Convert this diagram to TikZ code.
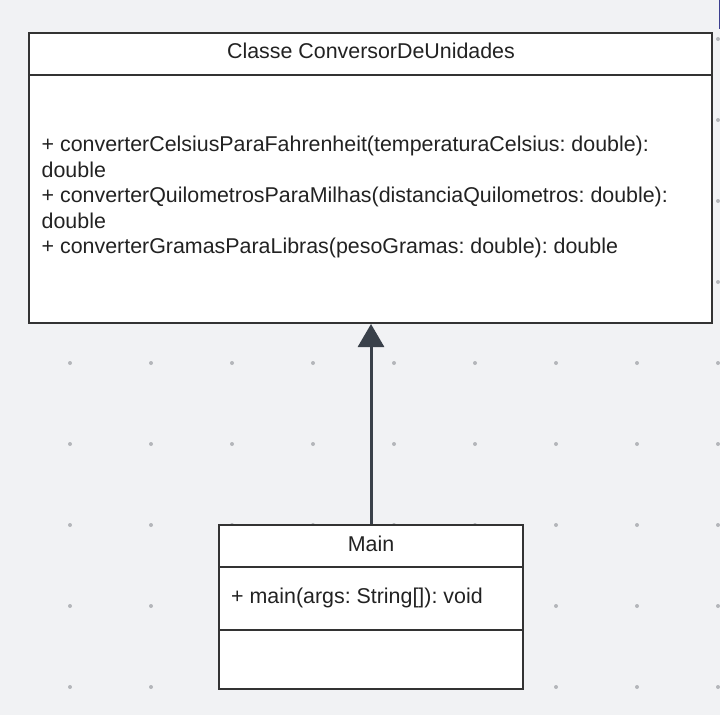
\documentclass[tikz,border=0pt]{standalone}
\usepackage{fontspec}
\setmainfont{Liberation Sans}
\usetikzlibrary{arrows.meta}
\definecolor{bg}{HTML}{F1F2F4}
\definecolor{dotc}{HTML}{B4B6BA}
\definecolor{edge}{HTML}{333333}
\definecolor{arr}{HTML}{3A414A}
\definecolor{txt}{HTML}{222222}
\definecolor{strip}{HTML}{3C3F8F}
\begin{document}
\frenchspacing
\begin{tikzpicture}[x=1pt,y=-1pt,
  umlbox/.style={draw=edge, line width=2pt, fill=white, inner sep=0pt, rectangle},
  lbl/.style={font=\fontsize{21.4}{25}\selectfont, text=txt, inner sep=0pt},
  divider/.style={draw=edge, line width=2pt},
  inherit/.style={draw=arr, line width=3pt, -{Triangle[length=23pt,width=26pt]}}]
\fill[bg] (0,0) rectangle (720,715);
\useasboundingbox (0,0) rectangle (720,715);
\foreach \i in {0,...,8} \foreach \j in {0,...,8} \fill[dotc] (70+81*\i, 39+81*\j) circle (2);
\fill[strip] (718.5,0) rectangle (720,29);
% class ConversorDeUnidades
\node[umlbox, minimum width=683pt, minimum height=290pt] (conv) at (370.5,178) {};
\coordinate (convsep) at (0,74.5);
\draw[divider] (conv.west |- convsep) -- (conv.east |- convsep);
\node[lbl, anchor=base] (convname) at (371,58.5) {Classe ConversorDeUnidades};
\node[lbl, anchor=base west] (m1) at (41.5,151) {+ converterCelsiusParaFahrenheit(temperaturaCelsius: double):};
\node[lbl, anchor=base west] (m1b) at (41.5,177) {double};
\node[lbl, anchor=base west] (m2) at (41.5,202.5) {+ converterQuilometrosParaMilhas(distanciaQuilometros: double):};
\node[lbl, anchor=base west] (m2b) at (41.5,228) {double};
\node[lbl, anchor=base west] (m3) at (41.5,253.5) {+ converterGramasParaLibras(pesoGramas: double): double};
% class Main
\node[umlbox, minimum width=304pt, minimum height=163.5pt] (main) at (371,606.75) {};
\coordinate (mainsep1) at (0,567);
\coordinate (mainsep2) at (0,630);
\draw[divider] (main.west |- mainsep1) -- (main.east |- mainsep1);
\draw[divider] (main.west |- mainsep2) -- (main.east |- mainsep2);
\node[lbl, anchor=base] (mainname) at (371,551) {Main};
\node[lbl, anchor=base west] (mm) at (231,603) {+ main(args: String[]): void};
% inheritance
\draw[inherit] (main.north) -- (main.north |- conv.south);
\end{tikzpicture}
\end{document}
